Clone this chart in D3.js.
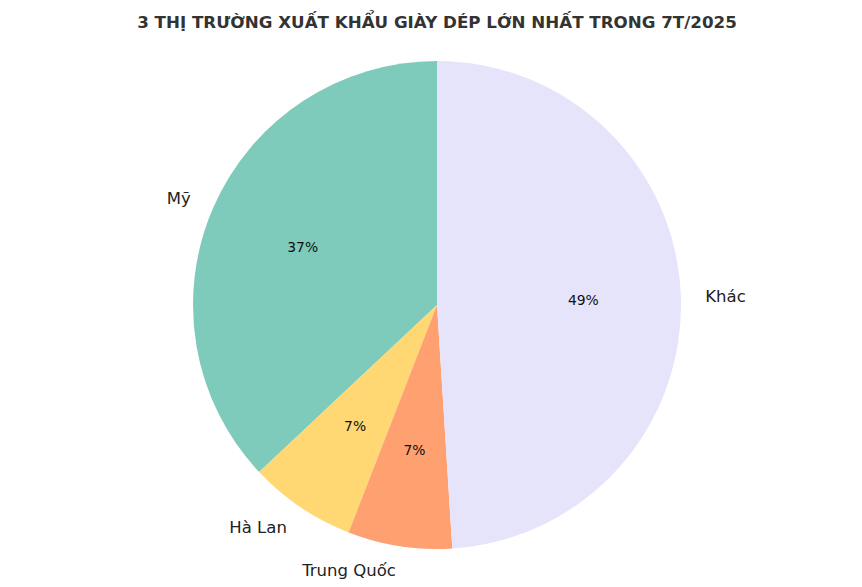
<!DOCTYPE html>
<html><head><meta charset="utf-8">
<script src="https://cdn.jsdelivr.net/npm/d3@7"></script>
<style>body{margin:0;background:#fff}svg{display:block}</style>
</head><body>
<script>
const categories = ["M\u1EF9", "Hà Lan", "Trung Quốc", "Khác"];
const values = [37.0, 7.1, 6.9, 49.0];
const colors = ["#7fcbbb", "#ffd873", "#ffa070", "#e6e4fa"];
const title = "3 THỊ TRƯỜNG XUẤT KHẨU GIÀY DÉP LỚN NHẤT TRONG 7T/2025";

const W = 862, H = 587, cx = 437, cy = 305, R = 244;
const svg = d3.select("body").append("svg").attr("width", W).attr("height", H);

svg.append("text").attr("x", 437).attr("y", 22).attr("text-anchor", "middle")
  .attr("dominant-baseline", "central")
  .style("font-family", "'DejaVu Sans', sans-serif").style("font-weight", "bold")
  .style("font-size", "16.7px").style("fill", "#333").text(title);

const data = categories.map((c, i) => ({c, v: values[i], col: colors[i]}));
// start at top, go counter-clockwise
const pie = d3.pie().value(d => d.v).sort(null).startAngle(0).endAngle(-2 * Math.PI);
const arcs = pie(data);
const arc = d3.arc().innerRadius(0).outerRadius(R);
const g = svg.append("g").attr("transform", `translate(${cx},${cy})`);
g.selectAll("path").data(arcs).enter().append("path")
  .attr("d", arc).attr("fill", d => d.data.col);

arcs.forEach(a => {
  const mid = (a.startAngle + a.endAngle) / 2;
  const x = Math.sin(mid), y = -Math.cos(mid);
  g.append("text").attr("x", 1.1 * R * x).attr("y", 1.1 * R * y)
    .attr("text-anchor", x > 0 ? "start" : "end").attr("dominant-baseline", "central")
    .style("font-family", "'DejaVu Sans', sans-serif").style("font-size", "16.5px").style("fill", "#222")
    .text(a.data.c);
  const pct = (a.endAngle - a.startAngle) / (-2 * Math.PI) * 100;
  g.append("text").attr("x", 0.6 * R * x).attr("y", 0.6 * R * y)
    .attr("text-anchor", "middle").attr("dominant-baseline", "central")
    .style("font-family", "'DejaVu Sans', sans-serif").style("font-size", "13.9px").style("fill", "#111")
    .text(Math.round(pct) + "%");
});
</script>
</body></html>
